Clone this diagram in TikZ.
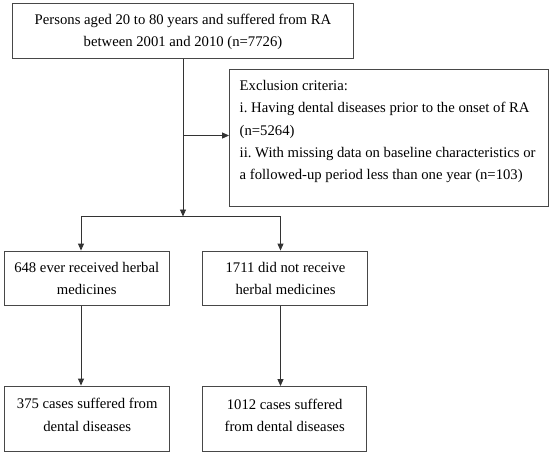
\documentclass[tikz,border=0pt]{standalone}
\usepackage{fontspec}
\setmainfont{Liberation Serif}
\usetikzlibrary{arrows.meta}
\frenchspacing
\begin{document}
\begin{tikzpicture}[x=1pt,y=-1pt,
  box/.style={draw=black!72, line width=0.9pt, inner sep=0pt},
  txt/.style={inner sep=0pt, font=\fontsize{14.7}{22.2}\selectfont, text=black},
  conn/.style={draw=black!80, line width=0.9pt},
  arr/.style={conn, -{Triangle[length=7pt,width=6pt]}}]
\useasboundingbox (0,0) rectangle (550,456);
% boxes
\node[box, minimum width=341pt, minimum height=55pt] (top) at (182.5,30.7) {};
\node[box, minimum width=319pt, minimum height=137pt] (excl) at (389,138) {};
\node[box, minimum width=165.5pt, minimum height=54.5pt] (m1) at (86.75,278.25) {};
\node[box, minimum width=165pt, minimum height=54.5pt] (m2) at (284.5,278.25) {};
\node[box, minimum width=165.5pt, minimum height=65pt] (b1) at (86.75,418.5) {};
\node[box, minimum width=164.5pt, minimum height=64.5pt] (b2) at (284.25,418.75) {};
% texts
\node[txt, align=center] (ttop) at (183,32) {Persons aged 20 to 80 years and suffered from RA\\between 2001 and 2010 (n=7726)};
\node[txt, align=left, anchor=west] (texcl) at (239.5,131.5) {Exclusion criteria:\\i. Having dental diseases prior to the onset of RA\\(n=5264)\\ii. With missing data on baseline characteristics or\\a followed-up period less than one year (n=103)};
\node[txt, align=center] (tm1) at (86.7,278.8) {648 ever received herbal\\medicines};
\node[txt, align=center] (tm2) at (285.5,278.8) {1711 did not receive\\herbal medicines};
\node[txt, align=center] (tb1) at (87.2,414.8) {375 cases suffered from\\dental diseases};
\node[txt, align=center] (tb2) at (284.7,415) {1012 cases suffered\\from dental diseases};
% connectors
\coordinate (split) at (183,216.5);
\coordinate (branch) at (183,135.5);
\coordinate (bl) at (81,216.5);
\coordinate (br) at (280.5,216.5);
\draw[arr] (top.south -| split) -- (split);
\draw[arr] (branch) -- (branch -| excl.west);
\draw[conn] (bl) -- (br);
\draw[arr] (bl) -- (bl |- m1.north);
\draw[arr] (br) -- (br |- m2.north);
\draw[arr] (bl |- m1.south) -- (bl |- b1.north);
\draw[arr] (br |- m2.south) -- (br |- b2.north);
\end{tikzpicture}
\end{document}
